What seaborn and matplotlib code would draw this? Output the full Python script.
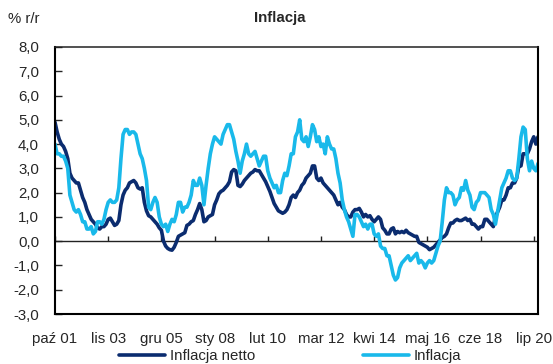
# Inflacja vs inflacja netto (% r/r), monthly Oct 2001 - Sep 2020
import numpy as np
import pandas as pd
import matplotlib
matplotlib.use('Agg')
import matplotlib.pyplot as plt
import seaborn as sns
from matplotlib.ticker import FuncFormatter, MultipleLocator

start_month = '2001-10'

inflacja_netto = [
    4.9, 4.5, 4.2,
    4.0, 3.9, 3.7, 3.4, 2.8, 2.6, 2.5, 2.4, 2.4, 2.1, 1.8, 1.6,
    1.3, 1.1, 0.9, 0.8, 0.7, 0.55, 0.5, 0.6, 0.6, 0.7, 0.9, 0.95,
    0.8, 0.65, 0.7, 0.85, 1.5, 1.9, 2.1, 2.2, 2.4, 2.45, 2.5, 2.4,
    2.2, 2.15, 2.2, 1.6, 1.25, 1.05, 1.0, 0.9, 0.8, 0.7, 0.55, 0.45,
    0.0, -0.2, -0.3, -0.35, -0.37, -0.25, -0.05, 0.2, 0.25, 0.3, 0.35, 0.65,
    0.7, 0.8, 0.85, 1.1, 1.3, 1.55, 1.3, 0.8, 0.85, 1.0, 1.05, 1.1,
    1.5, 1.7, 1.95, 2.05, 2.1, 2.2, 2.3, 2.45, 2.85, 2.95, 2.9, 2.3,
    2.25, 2.35, 2.5, 2.6, 2.7, 2.8, 2.85, 2.95, 2.9, 2.9, 2.75, 2.6,
    2.45, 2.25, 2.05, 1.8, 1.55, 1.4, 1.25, 1.2, 1.15, 1.2, 1.3, 1.5,
    1.8, 1.9, 1.8, 2.0, 2.1, 2.3, 2.4, 2.6, 2.7, 2.8, 3.1, 3.1,
    2.6, 2.5, 2.6, 2.4, 2.3, 2.2, 2.1, 2.0, 1.9, 1.7, 1.5, 1.6,
    1.4, 1.3, 1.1, 1.0, 1.0, 1.2, 1.3, 1.3, 1.35, 1.2, 1.0, 1.1,
    1.0, 1.05, 0.9, 0.8, 0.9, 1.0, 0.9, 0.55, 0.45, 0.3, 0.3, 0.5,
    0.55, 0.3, 0.4, 0.35, 0.4, 0.35, 0.45, 0.35, 0.3, 0.25, 0.2, 0.2,
    -0.05, -0.1, -0.15, -0.2, -0.25, -0.35, -0.3, -0.25, -0.15, -0.05, 0.05, 0.15,
    0.2, 0.3, 0.55, 0.75, 0.75, 0.85, 0.9, 0.85, 0.85, 0.9, 0.95, 0.85,
    0.9, 0.7, 0.7, 0.6, 0.5, 0.6, 0.6, 0.9, 0.9, 0.8, 0.7, 0.6,
    1.0, 1.2, 1.4, 1.7, 1.7, 1.9, 2.2, 2.2, 2.4, 2.4, 2.6, 3.1,
    3.1, 3.6, 3.6, 3.6, 3.8, 4.1, 4.3, 4.0, 4.3,
]

inflacja = [
    4.0, 3.6, 3.6,
    3.5, 3.5, 3.3, 3.0, 1.9, 1.6, 1.3, 1.2, 1.3, 1.1, 0.8, 0.8,
    0.5, 0.5, 0.6, 0.3, 0.4, 0.8, 0.8, 0.7, 0.9, 1.3, 1.6, 1.7,
    1.6, 1.6, 1.7, 2.2, 3.4, 4.4, 4.6, 4.6, 4.4, 4.5, 4.5, 4.4,
    4.0, 3.6, 3.4, 3.0, 2.5, 1.4, 1.3, 1.6, 1.8, 1.6, 1.0, 0.7,
    0.6, 0.7, 0.4, 0.7, 0.9, 0.8, 1.1, 1.6, 1.6, 1.2, 1.4, 1.4,
    1.6, 1.9, 2.5, 2.3, 2.3, 2.6, 2.3, 1.5, 2.3, 3.0, 3.6, 4.0,
    4.3, 4.2, 4.1, 4.0, 4.4, 4.6, 4.8, 4.8, 4.5, 4.2, 3.7, 3.3,
    2.8, 3.3, 3.6, 4.0, 3.6, 3.5, 3.6, 3.7, 3.4, 3.1, 3.3, 3.5,
    3.5, 2.9, 2.6, 2.4, 2.2, 2.3, 2.0, 2.0, 2.5, 2.8, 2.7, 3.1,
    3.6, 3.6, 4.3, 4.5, 5.0, 4.2, 4.1, 4.3, 3.9, 4.3, 4.8, 4.6,
    4.1, 4.3, 3.9, 4.0, 3.6, 4.3, 4.0, 3.8, 3.8, 3.4, 2.8, 2.4,
    1.7, 1.3, 1.0, 0.8, 0.5, 0.2, 1.1, 1.1, 1.0, 0.8, 0.6, 0.7,
    0.5, 0.7, 0.7, 0.3, 0.2, 0.3, -0.2, -0.3, -0.3, -0.6, -0.6, -1.0,
    -1.4, -1.6, -1.5, -1.1, -0.9, -0.8, -0.7, -0.6, -0.8, -0.7, -0.6, -0.5,
    -0.9, -0.8, -0.9, -1.1, -0.9, -0.8, -0.9, -0.8, -0.5, -0.2, 0.0, 0.8,
    1.7, 2.2, 2.0, 2.0, 1.9, 1.5, 1.7, 1.8, 2.2, 2.1, 2.5, 2.1,
    1.9, 1.4, 1.3, 1.6, 1.7, 2.0, 2.0, 2.0, 1.9, 1.8, 1.3, 1.1,
    0.7, 1.2, 1.7, 2.2, 2.4, 2.6, 2.9, 2.9, 2.6, 2.5, 2.6, 3.4,
    4.3, 4.7, 4.6, 3.4, 2.9, 3.3, 3.0, 2.9, 3.2,
]

series_names = ['Inflacja netto', 'Inflacja']
tick_months = ['2001-10', '2003-11', '2005-12', '2008-01', '2010-02',
               '2012-03', '2014-04', '2016-05', '2018-06', '2020-07']
tick_labels = ['paź 01', 'lis 03', 'gru 05', 'sty 08', 'lut 10',
               'mar 12', 'kwi 14', 'maj 16', 'cze 18', 'lip 20']

assert len(inflacja_netto) == len(inflacja)

months = pd.date_range(start_month, periods=len(inflacja), freq='MS')
t = np.arange(len(months))
df = pd.concat([
    pd.DataFrame({'t': t, 'wartosc': inflacja_netto, 'seria': series_names[0]}),
    pd.DataFrame({'t': t, 'wartosc': inflacja, 'seria': series_names[1]}),
])
tick_pos = months.get_indexer(pd.to_datetime(tick_months))

sns.set_style('white')
plt.rcParams['font.family'] = ['Liberation Sans', 'DejaVu Sans']
plt.rcParams['font.size'] = 10.5

colors = {'Inflacja netto': '#0b2c6f', 'Inflacja': '#19b9ea'}

fig = plt.figure(figsize=(5.53, 3.64), dpi=100)
ax = fig.add_axes([55 / 553, 50 / 364, 483 / 553, 267 / 364])

sns.lineplot(data=df, x='t', y='wartosc', hue='seria', hue_order=series_names,
             palette=colors, linewidth=2.6, ax=ax)

ax.set_xlim(t[0], t[-1])
ax.set_ylim(-3, 8)
ax.yaxis.set_major_locator(MultipleLocator(1))
ax.yaxis.set_major_formatter(FuncFormatter(lambda v, p: f"{v:.1f}".replace('.', ',')))
ax.set_xticks(tick_pos, tick_labels)
ax.tick_params(axis='x', length=0, pad=13, labelsize=10.8)
ax.tick_params(axis='y', left=True, direction='in', length=5, width=1, pad=11.5,
               labelsize=10.8)
ax.set_xlabel('')
ax.set_ylabel('')

# zero line with small tick marks pointing up
ax.axhline(0, color='#222222', lw=1, zorder=1)
ax.vlines(tick_pos, 0, 0.22, color='#222222', lw=1, zorder=1)

for side in ['left', 'bottom', 'right']:
    ax.spines[side].set_linewidth(1.5)
    ax.spines[side].set_color('black')
ax.spines['top'].set_linewidth(1.1)
ax.spines['top'].set_color('#222222')

handles, labels = ax.get_legend_handles_labels()
ax.get_legend().remove()
fig.legend(handles, labels, loc='center', bbox_to_anchor=(290 / 553, 8 / 364),
           ncol=2, frameon=False, handlelength=3.1, handletextpad=0.3,
           columnspacing=7.2, fontsize=10.8, borderpad=0.2)

fig.text(280 / 553, 1 - 18 / 364, 'Inflacja', ha='center', va='center',
         fontsize=10.8, fontweight='bold')
fig.text(8 / 553, 1 - 19 / 364, '% r/r', ha='left', va='center', fontsize=10.8)

fig.savefig('out.png', dpi=100)
